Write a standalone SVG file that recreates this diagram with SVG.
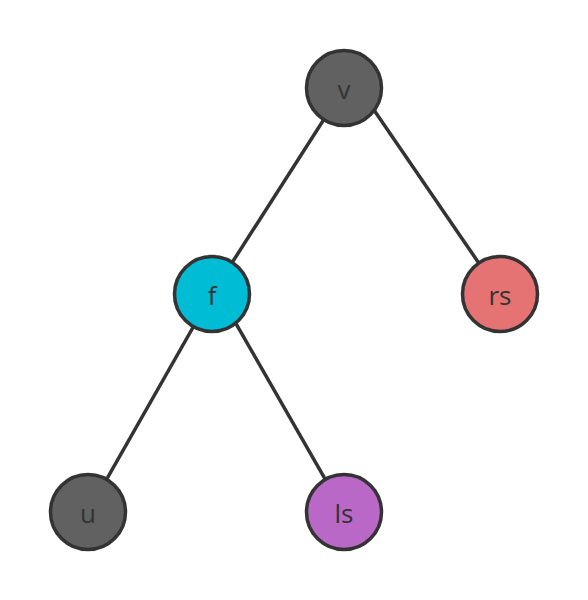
<svg xmlns="http://www.w3.org/2000/svg" width="588" height="600" viewBox="0 0 588 600">
<style>
.n{stroke:#333;stroke-width:3.5}
.e{stroke:#333;stroke-width:3.5;fill:none}
text{font-family:"Open Sans","Noto Sans",sans-serif;font-size:26px;fill:#333;text-anchor:middle;dominant-baseline:central}
</style>
<rect width="588" height="600" fill="#fff"/>
<g id="edges">
<line class="e" x1="344" y1="88" x2="212" y2="294"/>
<line class="e" x1="372.6" y1="108" x2="500" y2="294"/>
<line class="e" x1="212" y1="294" x2="88" y2="512"/>
<line class="e" x1="235" y1="321.8" x2="344" y2="512"/>
</g>
<g id="v"><circle class="n" cx="344" cy="88" r="37.5" fill="#616161"/><text x="344" y="89">v</text></g>
<g id="f"><circle class="n" cx="212" cy="294" r="37.5" fill="#00bcd4"/><text x="212" y="295">f</text></g>
<g id="rs"><circle class="n" cx="500" cy="294" r="37.5" fill="#e57373"/><text x="500" y="295">rs</text></g>
<g id="u"><circle class="n" cx="88" cy="512" r="37.5" fill="#616161"/><text x="88" y="513">u</text></g>
<g id="ls"><circle class="n" cx="344" cy="512" r="37.5" fill="#ba68c8"/><text x="344" y="513">ls</text></g>
</svg>
